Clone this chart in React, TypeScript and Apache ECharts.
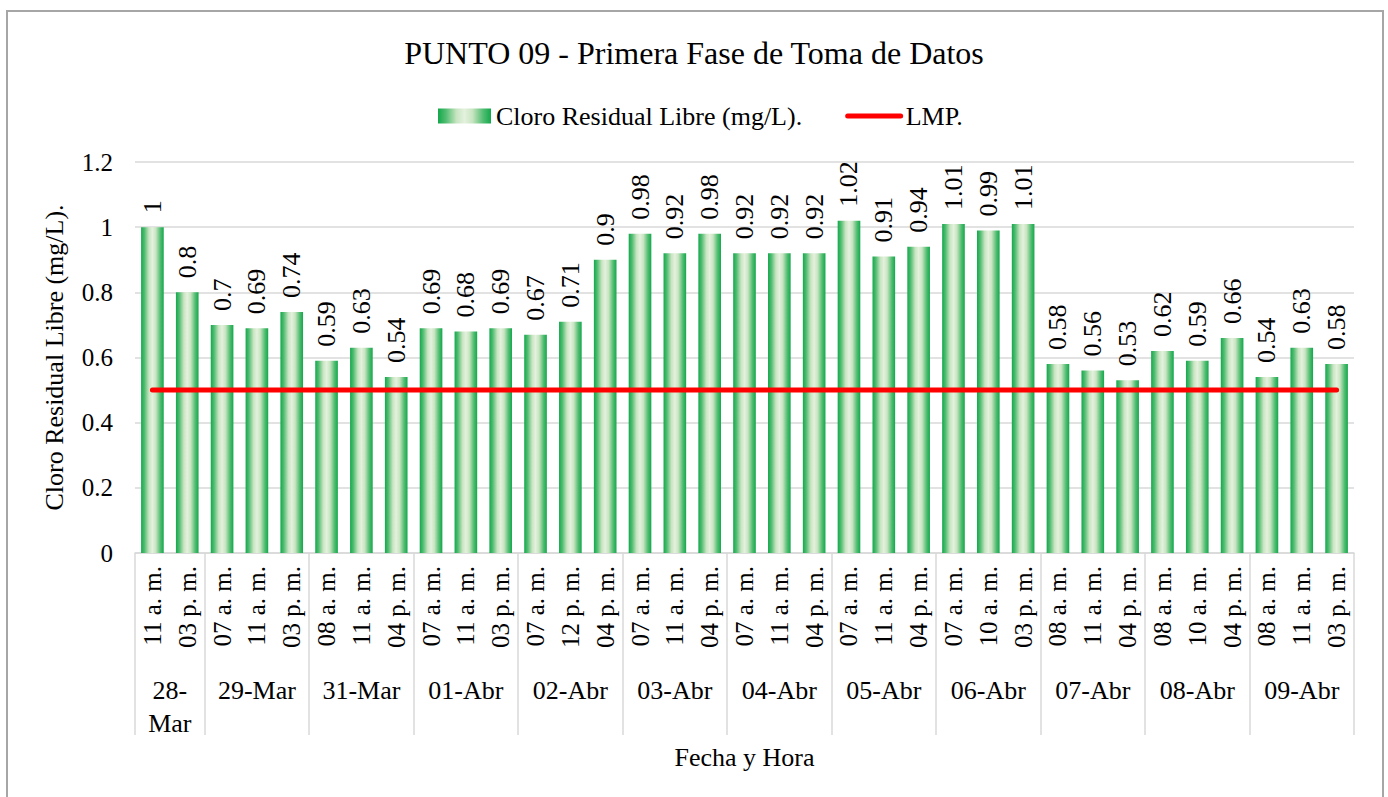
import React, { useEffect, useRef } from 'react';
import * as echarts from 'echarts';

// ---- Data ----
const chartTitle = 'PUNTO 09 - Primera Fase de Toma de Datos';
const barSeriesName = 'Cloro Residual Libre (mg/L).';
const lineSeriesName = 'LMP.';
const yAxisName = 'Cloro Residual Libre (mg/L).';
const xAxisName = 'Fecha y Hora';

const hourLabels = [
  '11 a. m.', '03 p. m.',
  '07 a. m.', '11 a. m.', '03 p. m.',
  '08 a. m.', '11 a. m.', '04 p. m.',
  '07 a. m.', '11 a. m.', '03 p. m.',
  '07 a. m.', '12 p. m.', '04 p. m.',
  '07 a. m.', '11 a. m.', '04 p. m.',
  '07 a. m.', '11 a. m.', '04 p. m.',
  '07 a. m.', '11 a. m.', '04 p. m.',
  '07 a. m.', '10 a. m.', '03 p. m.',
  '08 a. m.', '11 a. m.', '04 p. m.',
  '08 a. m.', '10 a. m.', '04 p. m.',
  '08 a. m.', '11 a. m.', '03 p. m.',
];
const chlorineValues = [
  1, 0.8,
  0.7, 0.69, 0.74,
  0.59, 0.63, 0.54,
  0.69, 0.68, 0.69,
  0.67, 0.71, 0.9,
  0.98, 0.92, 0.98,
  0.92, 0.92, 0.92,
  1.02, 0.91, 0.94,
  1.01, 0.99, 1.01,
  0.58, 0.56, 0.53,
  0.62, 0.59, 0.66,
  0.54, 0.63, 0.58,
];
const dateLabels = ['28-\nMar', '29-Mar', '31-Mar', '01-Abr', '02-Abr', '03-Abr', '04-Abr', '05-Abr', '06-Abr', '07-Abr', '08-Abr', '09-Abr'];
const dateGroupSizes = [2, 3, 3, 3, 3, 3, 3, 3, 3, 3, 3, 3];
const lmpValue = 0.5;
const yMin = 0;
const yMax = 1.2;
const yInterval = 0.2;

// ---- Layout ----
const W = 1388;
const H = 797;
const GRID_LEFT = 135;
const GRID_RIGHT = 34;
const GRID_TOP = 162;
const GRID_BOTTOM = 244;
const FONT = '"Liberation Serif", "Times New Roman", serif';

export default function App() {
  const ref = useRef<HTMLDivElement>(null);

  useEffect(() => {
    document.body.style.margin = '0';
    if (!ref.current) return;
    const chart = echarts.init(ref.current, null, { renderer: 'svg' });

    const n = hourLabels.length;
    const band = (W - GRID_LEFT - GRID_RIGHT) / n;

    // Build the date (second-level) axis from the groups
    const dateAxisData: any[] = hourLabels.map(() => '');
    const boundaries = new Set<number>();
    let start = 0;
    dateGroupSizes.forEach((size, gi) => {
      boundaries.add(start);
      if (size % 2 === 1) {
        dateAxisData[start + (size - 1) / 2] = dateLabels[gi];
      } else {
        dateAxisData[start + size / 2 - 1] = {
          value: dateLabels[gi],
          textStyle: { padding: [0, 0, 0, band] },
        };
      }
      start += size;
    });

    const barGradient = new echarts.graphic.LinearGradient(0, 0, 1, 0, [
      { offset: 0, color: '#12a84b' },
      { offset: 0.15, color: '#52bd72' },
      { offset: 0.35, color: '#c8e5c1' },
      { offset: 0.5, color: '#e4f1de' },
      { offset: 0.65, color: '#c8e5c1' },
      { offset: 0.85, color: '#52bd72' },
      { offset: 1, color: '#12a84b' },
    ]);

    chart.setOption({
      animation: false,
      backgroundColor: '#ffffff',
      textStyle: { fontFamily: FONT, color: '#000' },
      title: {
        text: chartTitle,
        left: 'center',
        top: 32,
        textStyle: { fontFamily: FONT, fontSize: 32, fontWeight: 'normal', color: '#000' },
      },
      legend: {
        top: 98,
        left: 433,
        itemWidth: 53,
        itemHeight: 15,
        itemGap: 43,
        textStyle: { fontFamily: FONT, fontSize: 26, color: '#000' },
        data: [
          { name: barSeriesName, icon: 'rect' },
          {
            name: lineSeriesName,
            itemStyle: { opacity: 0 },
            lineStyle: { color: '#ff0000', width: 5, cap: 'round' },
          },
        ],
      },
      graphic: [
        {
          type: 'rect',
          silent: true,
          shape: { x: 7, y: 11, width: 1376, height: 800 },
          style: { fill: 'none', stroke: '#a6a6a6', lineWidth: 2 },
          z: 100,
        },
      ],
      grid: { left: GRID_LEFT, right: GRID_RIGHT, top: GRID_TOP, bottom: GRID_BOTTOM, containLabel: false },
      xAxis: [
        {
          type: 'category',
          data: hourLabels,
          position: 'bottom',
          boundaryGap: true,
          name: xAxisName,
          nameLocation: 'middle',
          nameGap: 191,
          nameTextStyle: { fontFamily: FONT, fontSize: 26, color: '#000' },
          axisLine: { show: true, lineStyle: { color: '#d9d9d9', width: 1.5 } },
          axisTick: { show: false },
          axisLabel: {
            interval: 0,
            rotate: 90,
            margin: 13,
            fontFamily: FONT,
            fontSize: 25,
            color: '#000',
          },
          splitLine: { show: false },
        },
        {
          type: 'category',
          data: dateAxisData,
          position: 'bottom',
          boundaryGap: true,
          axisLine: { show: false },
          axisTick: {
            show: true,
            length: 182,
            interval: (index: number) => boundaries.has(index),
            lineStyle: { color: '#d9d9d9', width: 1.5 },
          },
          axisLabel: {
            interval: 0,
            margin: 121,
            fontFamily: FONT,
            fontSize: 26,
            lineHeight: 33,
            color: '#000',
          },
          splitLine: { show: false },
        },
      ],
      yAxis: {
        type: 'value',
        min: yMin,
        max: yMax,
        interval: yInterval,
        name: yAxisName,
        nameLocation: 'middle',
        nameGap: 68,
        nameTextStyle: { fontFamily: FONT, fontSize: 26, color: '#000' },
        axisLine: { show: false },
        axisTick: { show: false },
        axisLabel: { margin: 22, fontFamily: FONT, fontSize: 25, color: '#000' },
        splitLine: { lineStyle: { color: '#d9d9d9', width: 1.5 } },
      },
      series: [
        {
          name: barSeriesName,
          type: 'bar',
          xAxisIndex: 0,
          data: chlorineValues,
          barCategoryGap: '35%',
          itemStyle: { color: barGradient },
          label: {
            show: true,
            position: 'top',
            rotate: 90,
            align: 'left',
            verticalAlign: 'middle',
            distance: 14,
            fontFamily: FONT,
            fontSize: 26,
            color: '#000',
          },
        },
        {
          name: lineSeriesName,
          type: 'line',
          xAxisIndex: 0,
          data: hourLabels.map(() => lmpValue),
          symbol: 'none',
          lineStyle: { color: '#ff0000', width: 5, cap: 'round' },
          itemStyle: { color: '#ff0000' },
          z: 5,
        },
      ],
    });

    return () => chart.dispose();
  }, []);

  return <div ref={ref} style={{ width: W, height: H }} />;
}
